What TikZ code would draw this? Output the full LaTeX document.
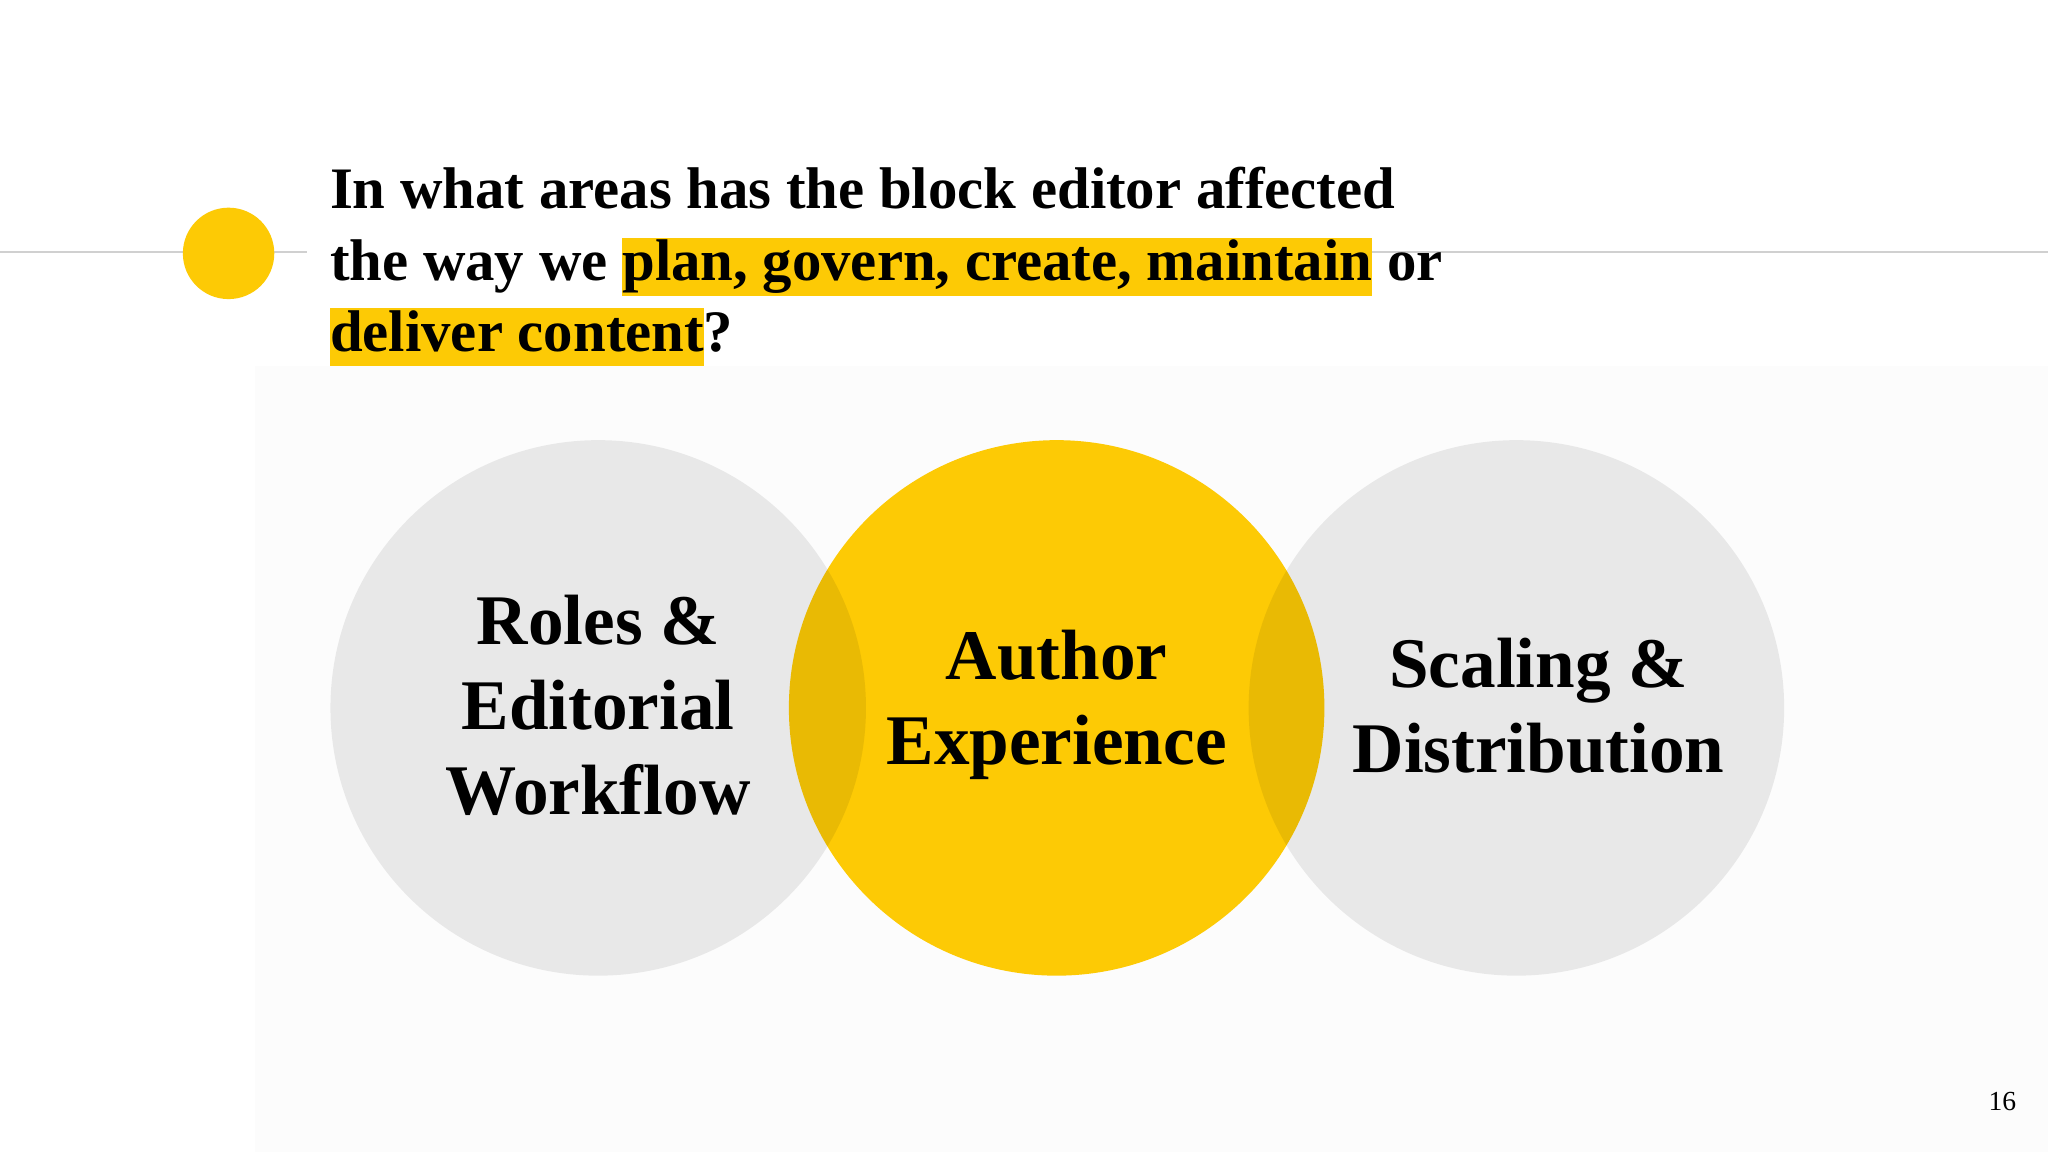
\documentclass[tikz,border=0pt]{standalone}
\usepackage{fontspec}
\setmainfont{Liberation Serif}
\definecolor{ylw}{HTML}{FDCA05}
\definecolor{bgl}{HTML}{FCFCFC}
\definecolor{rule}{HTML}{D0D0D0}
\newcommand\hlt[1]{{\setlength{\fboxsep}{0pt}\colorbox{ylw}{\rule[-3.2pt]{0pt}{12.6pt}#1}}}
\begin{document}
\begin{tikzpicture}[x=0.01cm,y=-0.01cm,
  ttl/.style={anchor=base west,inner sep=0,font=\fontsize{12.8}{15}\selectfont\bfseries},
  ctx/.style={align=center,font=\fontsize{15.5}{18.5}\selectfont\bfseries}]
\useasboundingbox (0,0) rectangle (1568,882);
\fill[white] (0,0) rectangle (1568,882);
\fill[bgl] (195,280) rectangle (1568,882);
\draw[rule,line width=0.6pt] (0,193) -- (235,193);
\draw[rule,line width=0.6pt] (1030,193) -- (1568,193);
\fill[ylw] (175,194) circle (35);
\node[ttl] (t1) at (252,160) {In what areas has the block editor affected};
\node[ttl] (t2) at (252,215) {the way we \hlt{plan, govern, create, maintain} or};
\node[ttl] (t3) at (252,269) {\hlt{deliver content}?};
\fill[ylw] (809,542) circle (205);
\fill[black,opacity=0.08] (458,542) circle (205);
\fill[black,opacity=0.08] (1161,542) circle (205);
\node[ctx] (a) at (458,540) {Roles \&\\Editorial\\Workflow};
\node[ctx] (b) at (809,540) {Author\\Experience};
\node[ctx] (c) at (1178,540) {Scaling \&\\Distribution};
\node[font=\fontsize{6}{7}\selectfont] (p) at (1533,843) {16};
\end{tikzpicture}
\end{document}
